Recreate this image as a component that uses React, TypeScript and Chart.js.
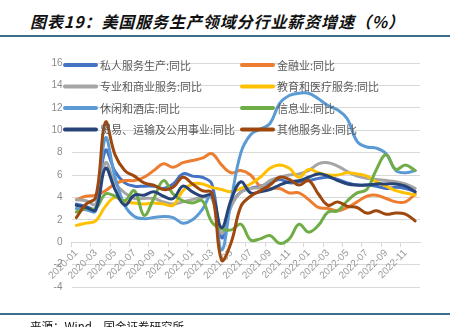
import React, { useEffect, useRef } from 'react';
import { Chart, registerables } from 'chart.js';

Chart.register(...registerables);

const months: string[] = [
  '2020-01', '2020-02', '2020-03', '2020-04', '2020-05', '2020-06', '2020-07', '2020-08', '2020-09', '2020-10', '2020-11', '2020-12',
  '2021-01', '2021-02', '2021-03', '2021-04', '2021-05', '2021-06', '2021-07', '2021-08', '2021-09', '2021-10', '2021-11', '2021-12',
  '2022-01', '2022-02', '2022-03', '2022-04', '2022-05', '2022-06', '2022-07', '2022-08', '2022-09', '2022-10', '2022-11', '2022-12',
];

const seriesNames: string[] = [
  '私人服务生产:同比', '金融业:同比',
  '专业和商业服务:同比', '教育和医疗服务:同比',
  '休闲和酒店:同比', '信息业:同比',
  '贸易、运输及公用事业:同比', '其他服务业:同比',
];

const seriesColors: string[] = ['#4472C4', '#ED7D31', '#A5A5A5', '#FFC000', '#5B9BD5', '#70AD47', '#264478', '#9E480E'];

const privateServices: number[] = [3.4, 3.2, 3.0, 8.2, 6.3, 5.3, 5.0, 5.0, 5.0, 4.8, 5.2, 6.1, 5.9, 5.8, 5.2, 0.4, 3.3, 4.5, 4.8, 5.0, 5.3, 5.6, 5.3, 5.4, 5.5, 5.7, 5.8, 5.6, 5.3, 5.1, 5.1, 5.0, 4.8, 4.9, 4.8, 4.5];
const finance: number[] = [3.8, 4.1, 4.2, 4.6, 5.2, 5.5, 5.5, 5.8, 6.4, 7.0, 6.7, 7.1, 7.3, 7.5, 7.9, 6.9, 6.2, 6.4, 6.0, 5.0, 4.8, 4.8, 4.4, 4.4, 3.8, 3.1, 3.0, 2.8, 3.1, 3.6, 4.1, 4.2, 3.9, 3.6, 3.6, 4.3];
const professional: number[] = [3.8, 3.7, 3.4, 7.1, 5.3, 4.4, 3.9, 3.9, 3.9, 3.6, 3.4, 3.6, 3.8, 4.0, 3.9, 0.8, 3.2, 4.5, 4.8, 4.9, 5.5, 5.8, 6.0, 6.1, 6.4, 7.0, 7.1, 6.8, 6.3, 5.9, 5.7, 5.6, 5.5, 5.4, 5.2, 4.8];
const education: number[] = [1.5, 1.7, 1.9, 3.2, 4.0, 3.6, 3.5, 3.4, 3.5, 3.4, 3.3, 4.6, 5.2, 5.2, 4.9, 4.7, 4.5, 4.8, 5.2, 5.8, 6.6, 6.9, 6.6, 5.8, 6.5, 6.2, 6.0, 6.0, 6.2, 6.1, 5.9, 5.4, 5.0, 4.6, 4.4, 4.2];
const leisure: number[] = [3.0, 2.9, 2.8, 9.3, 5.8, 3.3, 2.3, 2.1, 2.2, 2.3, 2.2, 1.7, 2.0, 2.9, 4.3, -0.7, 3.8, 8.0, 9.6, 10.1, 10.6, 12.4, 13.1, 13.3, 13.3, 12.8, 12.2, 11.8, 11.0, 9.0, 8.5, 8.4, 7.9, 6.4, 6.2, 6.4];
const information: number[] = [2.7, 3.0, 3.0, 4.3, 4.1, 3.7, 4.6, 2.4, 3.9, 5.5, 4.3, 3.7, 3.5, 3.7, 1.8, 1.2, 1.1, 1.6, 0.2, 0.3, 0.6, -0.1, 0.3, 1.6, 0.9, 1.5, 2.7, 2.8, 3.7, 4.4, 4.7, 6.5, 7.8, 6.5, 6.9, 6.4];
const trade: number[] = [3.3, 3.1, 2.9, 6.6, 4.7, 3.3, 4.2, 4.2, 4.5, 4.1, 3.9, 5.0, 4.5, 4.1, 4.2, 1.3, 3.8, 5.4, 4.4, 4.5, 4.7, 5.1, 5.4, 5.5, 5.8, 6.1, 5.9, 5.5, 5.2, 5.1, 5.1, 5.2, 5.2, 5.2, 5.0, 4.5];
const otherServices: number[] = [2.2, 3.4, 4.0, 10.7, 7.8, 6.4, 5.9, 5.3, 5.1, 4.7, 4.9, 5.8, 5.2, 4.6, 4.4, -1.6, 0.0, 3.2, 4.1, 4.6, 5.1, 5.8, 5.6, 5.1, 5.5, 4.3, 3.3, 3.6, 3.2, 3.1, 2.6, 2.8, 2.5, 2.6, 2.5, 1.9];

const seriesValues: number[][] = [privateServices, finance, professional, education, leisure, information, trade, otherServices];

const yMin = -4;
const yMax = 16;
const yStep = 2;

const titleText = '图表19：美国服务生产领域分行业薪资增速（%）';
const sourceText = '来源：Wind，国金证券研究所';

const insideLegend = {
  id: 'insideLegend',
  afterDraw(chart: any) {
    const ctx = chart.ctx;
    const sets = chart.data.datasets;
    ctx.save();
    ctx.font = '11px "Noto Sans CJK SC", sans-serif';
    ctx.textBaseline = 'middle';
    ctx.textAlign = 'left';
    sets.forEach((ds: any, k: number) => {
      const col = k % 2;
      const row = Math.floor(k / 2);
      const y = 65 + row * 21.5;
      const x0 = col === 0 ? 65 : 242;
      ctx.strokeStyle = ds.borderColor;
      ctx.lineWidth = 4;
      ctx.lineCap = 'round';
      ctx.beginPath();
      ctx.moveTo(x0, y);
      ctx.lineTo(x0 + 31, y);
      ctx.stroke();
      ctx.fillStyle = '#595959';
      ctx.fillText(ds.label, x0 + 35, y + 0.5);
    });
    ctx.restore();
  },
};

export default function App() {
  const canvasRef = useRef<HTMLCanvasElement | null>(null);

  useEffect(() => {
    const canvas = canvasRef.current;
    if (!canvas) return;
    const chart = new Chart(canvas, {
      type: 'line',
      data: {
        labels: months,
        datasets: seriesNames.map((name, i) => ({
          label: name,
          data: seriesValues[i],
          borderColor: seriesColors[i],
          backgroundColor: seriesColors[i],
          borderWidth: 3,
          borderCapStyle: 'round' as const,
          borderJoinStyle: 'round' as const,
          pointRadius: 0,
          pointHoverRadius: 0,
          tension: 0.4,
          fill: false,
          order: seriesNames.length - i,
        })),
      },
      options: {
        animation: false,
        responsive: false,
        devicePixelRatio: 1,
        events: [],
        layout: { padding: { top: 63, right: 39, bottom: 40, left: 0 } },
        plugins: {
          legend: { display: false },
          title: { display: false },
          tooltip: { enabled: false },
        },
        scales: {
          x: {
            type: 'category',
            position: { y: 0 } as any,
            offset: true,
            grid: {
              offset: true,
              drawOnChartArea: false,
              drawTicks: true,
              tickLength: 4,
              color: (c: any) => (c.index % 2 === 0 ? '#d9d9d9' : 'rgba(0,0,0,0)'),
            },
            border: { display: true, color: '#d9d9d9', width: 1 },
            ticks: {
              autoSkip: false,
              maxRotation: 45,
              minRotation: 45,
              padding: 1,
              color: '#999999',
              font: { family: '"Liberation Sans", Arial, sans-serif', size: 10 },
              callback: (_v: any, idx: number) => (idx % 2 === 0 ? months[idx] : ''),
            },
          },
          y: {
            min: yMin,
            max: yMax,
            afterFit: (scale: any) => {
              scale.width = 71.5;
            },
            grid: { color: '#d9d9d9', lineWidth: 1, drawTicks: false },
            border: { display: false },
            ticks: {
              stepSize: yStep,
              padding: 9,
              color: '#8c8c8c',
              font: { family: '"Liberation Sans", Arial, sans-serif', size: 10 },
            },
          },
        },
      },
      plugins: [insideLegend],
    });
    return () => chart.destroy();
  }, []);

  return (
    <div style={{ position: 'fixed', left: 0, top: 0, width: 459, height: 327, background: '#fff', overflow: 'hidden' }}>
      <div
        style={{
          position: 'absolute', left: 30, top: 11, fontFamily: '"Noto Sans CJK SC", sans-serif', fontSize: 16,
          fontWeight: 700, fontStyle: 'italic', lineHeight: '20px', letterSpacing: '0.9px', color: '#111', whiteSpace: 'nowrap',
        }}
      >
        {titleText}
      </div>
      <div style={{ position: 'absolute', left: 0, top: 35, width: 450, height: 2, background: '#3d6e8e' }} />
      <canvas ref={canvasRef} width={459} height={327} style={{ position: 'absolute', left: 0, top: 0, width: 459, height: 327 }} />
      <div style={{ position: 'absolute', left: 0, top: 313, width: 450, height: 2, background: '#3d6e8e' }} />
      <div
        style={{
          position: 'absolute', left: 30, top: 318, fontFamily: '"Noto Sans CJK SC", sans-serif', fontSize: 11.5,
          lineHeight: '16px', letterSpacing: '0px', color: '#111', whiteSpace: 'nowrap',
        }}
      >
        {sourceText}
      </div>
    </div>
  );
}
